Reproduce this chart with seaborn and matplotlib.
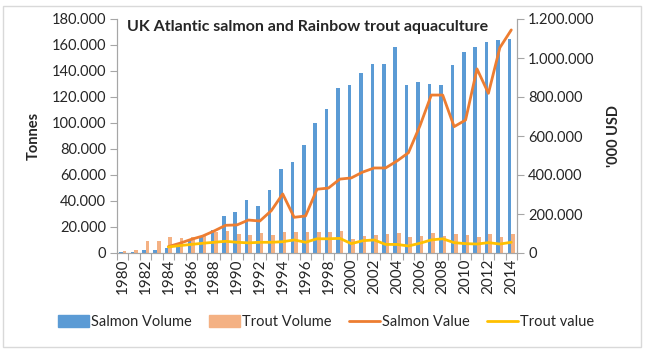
import numpy as np
import pandas as pd
import matplotlib
matplotlib.use("Agg")
import matplotlib.pyplot as plt
import seaborn as sns
from matplotlib.ticker import FuncFormatter, FixedLocator
from matplotlib.patches import Rectangle
from matplotlib.lines import Line2D

years = list(range(1980, 2015))
salmon_volume = [500, 700, 2300, 2500, 3900, 6900, 10300, 12700, 17700, 28500,
                 31800, 40500, 36200, 48500, 64600, 70200, 83000, 99800, 110800, 126700,
                 129000, 138500, 145600, 145600, 158200, 129500, 131800, 130000, 129000, 144600,
                 154600, 158200, 162300, 163600, 164600]
trout_volume = [1800, 2500, 9500, 9000, 12300, 11800, 12500, 13500, 16400, 16900,
                14600, 13800, 15400, 13800, 15900, 15900, 16400, 15900, 16400, 17200,
                11000, 13000, 14100, 14600, 15400, 12300, 13000, 15400, 13000, 14600,
                13600, 12300, 14600, 12300, 14600]
value_years = list(range(1984, 2015))
salmon_value = [33000, 50000, 70000, 87000, 113000, 142000, 144000, 169000, 164000, 217000,
                303000, 183000, 190000, 327000, 333000, 379000, 385000, 415000, 436000, 436000,
                472000, 514000, 651000, 810000, 810000, 648000, 682000, 944000, 819000, 1053000,
                1144000]
trout_value = [31000, 38000, 44000, 50000, 55000, 60000, 55000, 52000, 55000, 55000,
               58000, 67000, 55000, 73000, 73000, 75000, 48000, 63000, 67000, 44000,
               44000, 36000, 50000, 67000, 73000, 53000, 48000, 46000, 53000, 46000,
               55000]

sns.set_theme(style="white")
plt.rcParams['font.family'] = ['Lato', 'DejaVu Sans']

bars = pd.DataFrame({
    "Year": [str(y) for y in years] * 2,
    "Tonnes": salmon_volume + trout_volume,
    "Series": ["Salmon Volume"] * len(years) + ["Trout Volume"] * len(years),
})
lines = pd.DataFrame({
    "pos": [y - years[0] for y in value_years] * 2,
    "USD": salmon_value + trout_value,
    "Series": ["Salmon Value"] * len(value_years) + ["Trout value"] * len(value_years),
})

fig = plt.figure(figsize=(6.47, 3.53), dpi=100)
ax = fig.add_axes([117/647, 1-253/353, 400/647, 234/353])

bar_colors = {"Salmon Volume": "#5B9BD5", "Trout Volume": "#F4B183"}
sns.barplot(data=bars, x="Year", y="Tonnes", hue="Series", palette=bar_colors,
            width=0.62, ax=ax, legend=False, saturation=1, linewidth=0)

ax2 = ax.twinx()
line_colors = {"Salmon Value": "#ED7D31", "Trout value": "#FFC000"}
sns.lineplot(data=lines, x="pos", y="USD", hue="Series", palette=line_colors,
             linewidth=2, ax=ax2, legend=False)

ax.set_xlim(-0.5, len(years) - 0.5)
ax.set_ylim(0, 180000)
ax2.set_ylim(0, 1200000)
ax.set_yticks(np.arange(0, 180001, 20000))
ax2.set_yticks(np.arange(0, 1200001, 200000))

def dotfmt(v, p):
    if v == 0:
        return "0"
    return f"{int(round(v)):,}".replace(",", ".")

ax.yaxis.set_major_formatter(FuncFormatter(dotfmt))
ax2.yaxis.set_major_formatter(FuncFormatter(dotfmt))

ax.set_xticks(range(0, len(years), 2))
ax.set_xticklabels([str(y) for y in years[::2]], rotation=90, fontsize=11)
ax.xaxis.set_minor_locator(FixedLocator(np.arange(-0.5, len(years), 1)))
ax.tick_params(axis="x", which="major", length=0, pad=4)
ax.tick_params(axis="x", which="minor", length=5, color="#A6A6A6", width=0.8, bottom=True)
ax.tick_params(axis="y", length=5, color="#A6A6A6", width=0.8, labelsize=10.5, left=True, pad=3)
ax2.tick_params(axis="y", length=5, color="#A6A6A6", width=0.8, labelsize=10.5, right=True, pad=3)

for a in (ax, ax2):
    a.spines["top"].set_visible(False)
    for s in ("left", "right", "bottom"):
        a.spines[s].set_color("#A6A6A6")
        a.spines[s].set_linewidth(0.8)
    a.grid(False)

ax.set_xlabel("")
ax.set_ylabel("Tonnes", fontsize=10.5, fontweight="bold", labelpad=8)
ax2.set_ylabel("'000 USD", fontsize=10.5, fontweight="bold", labelpad=9)
ax2.set_xlabel("")

ax.text(0.025, 0.995, "UK Atlantic salmon and Rainbow trout aquaculture",
        transform=ax.transAxes, fontsize=11.5, fontweight="bold", va="top", ha="left")

handles = [Rectangle((0, 0), 1, 1, color="#5B9BD5"),
           Rectangle((0, 0), 1, 1, color="#F4B183"),
           Line2D([], [], color="#ED7D31", linewidth=2),
           Line2D([], [], color="#FFC000", linewidth=2)]
labels = ["Salmon Volume", "Trout Volume", "Salmon Value", "Trout value"]
fig.legend(handles, labels, loc="center", bbox_to_anchor=(326/647, 1-322/353), ncol=4,
           frameon=False, fontsize=10.5, handlelength=2.1, handleheight=0.8,
           columnspacing=1.2, handletextpad=0.15, borderpad=0, borderaxespad=0)

fig.add_artist(Rectangle((3/647, 1-347/353), 638/647, 341/353, transform=fig.transFigure,
                         fill=False, edgecolor="#D9D9D9", linewidth=1))

fig.savefig("out.png", dpi=100)
